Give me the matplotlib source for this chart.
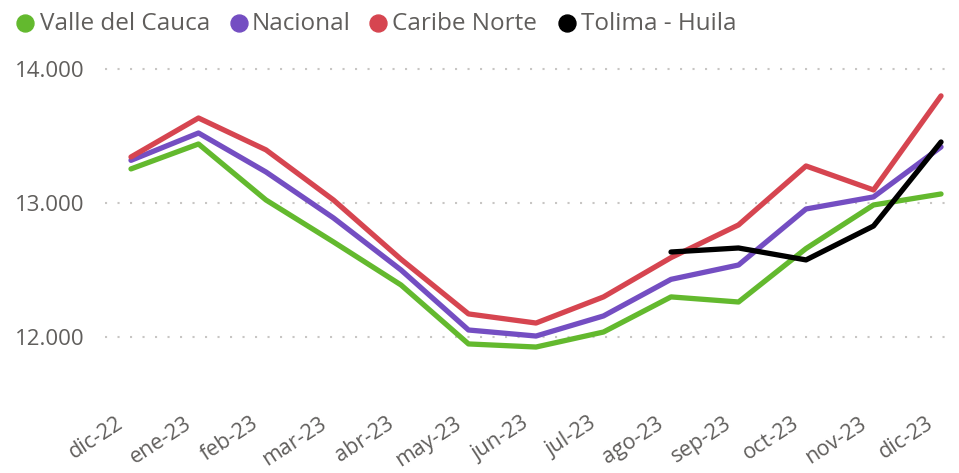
import matplotlib

matplotlib.use("Agg")
import matplotlib.pyplot as plt
import matplotlib.transforms as mtransforms
from matplotlib.lines import Line2D
from matplotlib.ticker import FuncFormatter

plt.rcParams["font.family"] = ["Open Sans", "DejaVu Sans"]

meses = ["dic-22", "ene-23", "feb-23", "mar-23", "abr-23", "may-23", "jun-23",
         "jul-23", "ago-23", "sep-23", "oct-23", "nov-23", "dic-23"]

valle_del_cauca = [13254, 13440, 13022, 12709, 12388, 11948, 11925,
                   12037, 12299, 12261, 12660, 12985, 13067]
nacional = [13318, 13522, 13231, 12888, 12500, 12052, 12007,
            12157, 12430, 12537, 12955, 13045, 13418]
caribe_norte = [13343, 13634, 13396, 13022, 12580, 12172, 12104,
                12299, 12592, 12836, 13276, 13097, 13799]
# Tolima - Huila solo tiene datos desde ago-23
tolima_huila = [None] * 8 + [12634, 12664, 12575, 12828, 13455]

series = [
    ("Valle del Cauca", valle_del_cauca, "#63B92E"),
    ("Nacional", nacional, "#744EC2"),
    ("Caribe Norte", caribe_norte, "#D64550"),
    ("Tolima - Huila", tolima_huila, "#000000"),
]

GRIS = "#605E5C"
W, H = 959, 473

fig = plt.figure(figsize=(W / 100, H / 100), dpi=100)
eixo = fig.add_axes([105 / W, 78 / H, 850 / W, 353 / H])

x = list(range(len(meses)))
for nome, valores, cor in series:
    pontos = [(i, v) for i, v in zip(x, valores) if v is not None]
    eixo.plot([p[0] for p in pontos], [p[1] for p in pontos], color=cor, lw=3.8,
              solid_capstyle="round", solid_joinstyle="round", label=nome)

eixo.set_xlim(-0.385, 12.207)
eixo.set_ylim(11567, 14201)
eixo.set_yticks([12000, 13000, 14000])
eixo.yaxis.set_major_formatter(FuncFormatter(lambda v, _: f"{v:,.0f}".replace(",", ".")))
eixo.grid(axis="y", color="#C8C6C4", lw=1.5, linestyle=(0, (1, 5)))
eixo.set_axisbelow(True)
for lado in eixo.spines.values():
    lado.set_visible(False)
eixo.tick_params(axis="both", length=0, colors=GRIS)
eixo.tick_params(axis="y", pad=15, labelsize=16)
eixo.tick_params(axis="x", pad=13, labelsize=15.5)

eixo.set_xticks(x)
eixo.set_xticklabels(meses, rotation=33, ha="right", va="top", rotation_mode="anchor")
desloca = mtransforms.ScaledTranslation(-15 / 100, 0, fig.dpi_scale_trans)
for rotulo in eixo.get_xticklabels():
    rotulo.set_transform(rotulo.get_transform() + desloca)

# legenda desenhada à mão para acertar o espaçamento do original
pos_circulos = [25, 239, 378, 567]
pos_textos = [40, 252, 392, 581]
for (nome, _, cor), xc, xt in zip(series, pos_circulos, pos_textos):
    fig.add_artist(Line2D([xc / W], [1 - 23 / H], marker="o", ls="", color=cor,
                          markersize=12.2, transform=fig.transFigure))
    fig.text(xt / W, 1 - 24 / H, nome, ha="left", va="center", fontsize=17.5, color=GRIS)

fig.savefig("out.png", dpi=100)
plt.close(fig)
